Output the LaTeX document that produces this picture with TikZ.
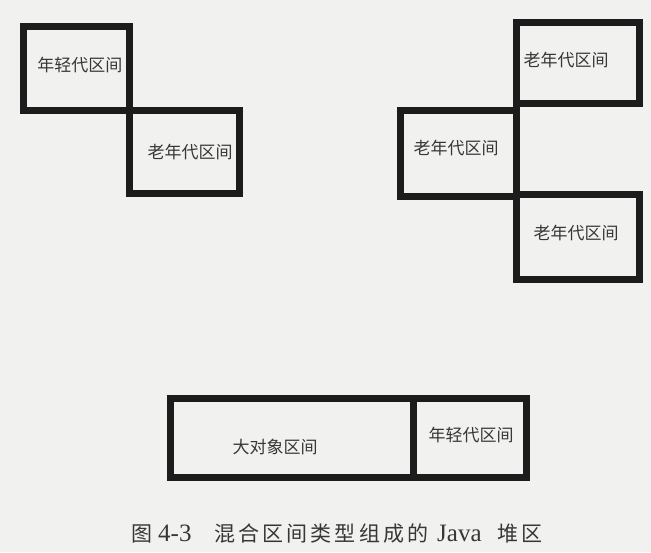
\documentclass[tikz,border=0pt]{standalone}
\usepackage{fontspec}
\newfontfamily\cjk{Noto Sans CJK SC}
\newfontfamily\cjkcap[LetterSpace=15]{Noto Sans CJK SC}
\newfontfamily\latinserif{Liberation Serif}
\definecolor{paper}{RGB}{241,241,239}
\definecolor{ink}{RGB}{28,28,28}
\definecolor{txt}{RGB}{55,55,55}
\tikzset{
  region/.style={draw=ink, line width=7pt, rectangle, inner sep=0pt, outer sep=0pt},
  lbl/.style={text=txt, font=\cjk\fontsize{17}{17}\selectfont, inner sep=0pt},
  captiontext/.style={text=txt, inner sep=0pt, anchor=base west},
  capcjk/.style={captiontext, font=\cjkcap\fontsize{21}{21}\selectfont},
  caplatin/.style={captiontext, font=\latinserif\fontsize{25}{25}\selectfont}
}
\begin{document}
\begin{tikzpicture}[x=1pt, y=-1pt]
\fill[paper] (0,0) rectangle (651,552);
\useasboundingbox (0,0) rectangle (651,552);
% left pair
\node[region, minimum width=106pt, minimum height=84pt] (young1) at (76,68) {};
\node[region, minimum width=110pt, minimum height=83pt] (old1) at (184,151.5) {};
\node[lbl] (ly1) at (80,65) {年轻代区间};
\node[lbl] (lo1) at (190,152) {老年代区间};
% right triple
\node[region, minimum width=123pt, minimum height=81pt] (old2) at (577.5,62.5) {};
\node[region, minimum width=116pt, minimum height=86pt] (old3) at (458,153) {};
\node[region, minimum width=123pt, minimum height=85pt] (old4) at (577.5,236.5) {};
\node[lbl] (lo2) at (566,60) {老年代区间};
\node[lbl] (lo3) at (456,148) {老年代区间};
\node[lbl] (lo4) at (576,233) {老年代区间};
% bottom pair
\node[region, minimum width=243pt, minimum height=79pt] (huge) at (291.5,437.5) {};
\node[region, minimum width=113pt, minimum height=79pt] (young2) at (469.5,437.5) {};
\node[lbl] (lh) at (275,447) {大对象区间};
\node[lbl] (ly2) at (471,435) {年轻代区间};
% caption
\node[capcjk] (capfig) at (131,541) {图};
\node[caplatin] (capnum) at (158,541) {4-3};
\node[capcjk] (capmain) at (214,541) {混合区间类型组成的};
\node[caplatin] (capjava) at (437,541) {Java};
\node[capcjk] (capheap) at (497,541) {堆区};
\end{tikzpicture}
\end{document}
